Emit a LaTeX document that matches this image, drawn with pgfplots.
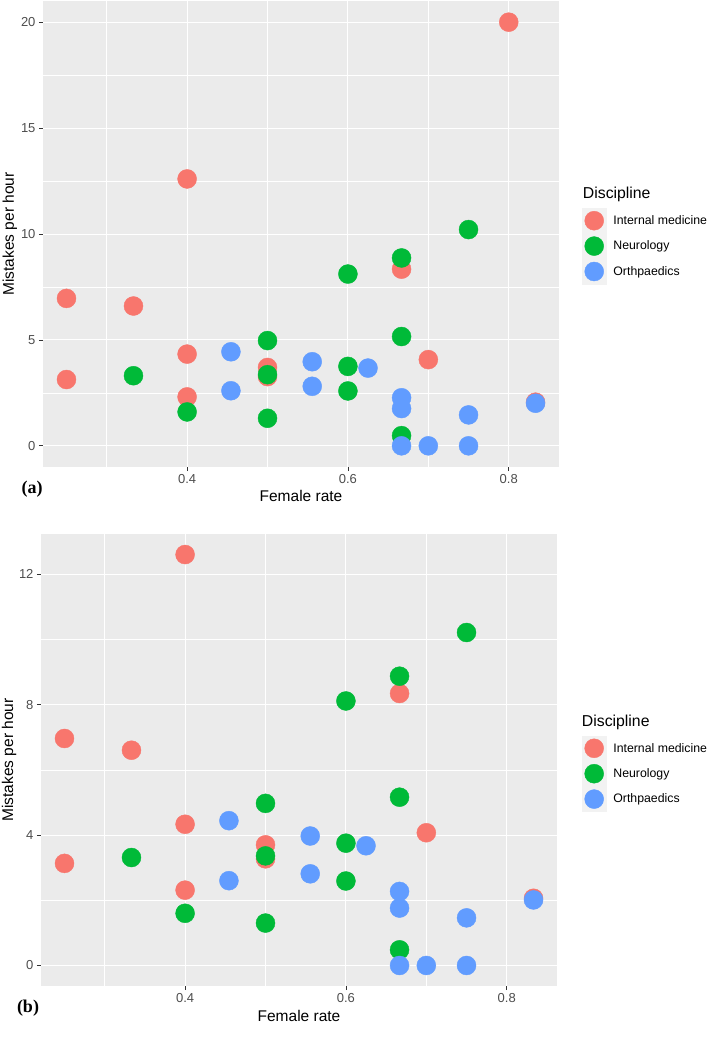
\documentclass[border=0pt]{standalone}
\usepackage{pgfplots}
\pgfplotsset{compat=1.18}
\usepackage{fontspec}
\setmainfont{Liberation Sans}
\newfontfamily\serifb{Liberation Serif}
\definecolor{bgg}{HTML}{EBEBEB}
\definecolor{cR}{HTML}{F8766D}
\definecolor{cG}{HTML}{00BA38}
\definecolor{cB}{HTML}{619CFF}
\definecolor{tickc}{HTML}{333333}
\definecolor{labc}{HTML}{4D4D4D}
\definecolor{keybg}{HTML}{F2F2F2}

\pgfplotstableread{
x y
0.25 6.96
0.25 3.13
0.3333 6.60
0.4 12.60
0.4 4.33
0.4 2.31
0.5 3.70
0.5 3.27
0.6667 8.34
0.7 4.07
0.8 20.0
0.8333 2.06
}\redA
\pgfplotstableread{
x y
0.25 6.96
0.25 3.13
0.3333 6.60
0.4 12.60
0.4 4.33
0.4 2.31
0.5 3.70
0.5 3.27
0.6667 8.34
0.7 4.07
0.8333 2.06
}\redB
\pgfplotstableread{
x y
0.3333 3.31
0.4 1.60
0.5 4.97
0.5 3.36
0.5 1.30
0.6 8.11
0.6 3.75
0.6 2.59
0.6667 8.87
0.6667 5.16
0.6667 0.48
0.75 10.21
}\green
\pgfplotstableread{
x y
0.4545 4.44
0.4545 2.60
0.5556 3.97
0.5556 2.81
0.625 3.67
0.6667 2.27
0.6667 1.76
0.6667 0
0.7 0
0.75 1.46
0.75 0
0.8333 2.01
}\blue

\pgfplotsset{
 ggbase/.style={
  scale only axis, width=516pt,
  xmin=0.2208, xmax=0.8625,
  axis background/.style={fill=bgg},
  axis line style={draw=none},
  xtick={0.4,0.6,0.8}, minor xtick={0.3,0.5,0.7},
  xticklabels={0.4,0.6,0.8},
  xtick pos=bottom, ytick pos=left,
  grid=both,
  major grid style={white, line width=1pt},
  minor grid style={white, line width=0.5pt},
  tick align=outside, major tick length=4pt, minor tick length=0pt,
  tick style={tickc, line width=0.8pt},
  ticklabel style={font=\fontsize{13}{15}\selectfont, text=labc},
  /pgf/number format/assume math mode=true,
  label style={font=\fontsize{15.5}{18}\selectfont},
  xlabel={Female rate}, ylabel={Mistakes per hour},
  clip mode=individual,
  legend style={draw=none, fill=none, inner sep=0pt, outer sep=0pt,
    font=\fontsize{12.3}{14}\selectfont, row sep=0pt,
    /tikz/every odd column/.append style={column sep=5pt}},
  legend cell align=left,
  legend image code/.code={\fill[keybg] (-12pt,-12.5pt) rectangle (12pt,12.5pt);
     \draw[mark repeat=2, mark phase=2] plot coordinates {(-5pt,0pt) (0pt,0pt) (5pt,0pt)};},
 },
 ptR/.style={only marks, mark=*, mark size=9.5pt, color=cR, mark options={fill=cR, draw=none}},
 ptG/.style={only marks, mark=*, mark size=9.5pt, color=cG, mark options={fill=cG, draw=none}},
 ptB/.style={only marks, mark=*, mark size=9.5pt, color=cB, mark options={fill=cB, draw=none}},
}

\begin{document}
\begin{tikzpicture}
\useasboundingbox (0,0) rectangle (708pt,-1039pt);
% panel (a)
\begin{axis}[ggbase, at={(43pt,-467pt)}, anchor=south west, height=466pt,
  ymin=-1, ymax=21, ytick={0,5,10,15,20}, minor ytick={2.5,7.5,12.5,17.5},
  yticklabels={0,5,10,15,20},
  ylabel style={at={(axis description cs:-0.064,0.5)}, anchor=center},
  xlabel style={at={(axis description cs:0.5,-0.062)}, anchor=center},
  legend style={at={(axis description cs:1.0446,0.5558)}, anchor=north west}]
\addplot[ptR] table {\redA}; \addlegendentry{Internal medicine}
\addplot[ptG] table {\green}; \addlegendentry{Neurology}
\addplot[ptB] table {\blue}; \addlegendentry{Orthpaedics}
\node[anchor=west, inner sep=0pt, font=\fontsize{15.8}{18}\selectfont] at (axis description cs:1.046,0.586) {Discipline};
\end{axis}
% panel (b)
\begin{axis}[ggbase, at={(41pt,-986pt)}, anchor=south west, height=452pt,
  ymin=-0.63, ymax=13.23, ytick={0,4,8,12}, minor ytick={2,6,10},
  yticklabels={0,4,8,12},
  ylabel style={at={(axis description cs:-0.062,0.5)}, anchor=center},
  xlabel style={at={(axis description cs:0.5,-0.066)}, anchor=center},
  legend style={at={(axis description cs:1.0484,0.554)}, anchor=north west}]
\addplot[ptR] table {\redB}; \addlegendentry{Internal medicine}
\addplot[ptG] table {\green}; \addlegendentry{Neurology}
\addplot[ptB] table {\blue}; \addlegendentry{Orthpaedics}
\node[anchor=west, inner sep=0pt, font=\fontsize{15.8}{18}\selectfont] at (axis description cs:1.048,0.584) {Discipline};
\end{axis}
\node[font=\serifb\bfseries\fontsize{18}{20}\selectfont, inner sep=0pt] at (32pt,-489pt) {(a)};
\node[font=\serifb\bfseries\fontsize{18}{20}\selectfont, inner sep=0pt] at (28pt,-1008pt) {(b)};
\end{tikzpicture}
\end{document}
